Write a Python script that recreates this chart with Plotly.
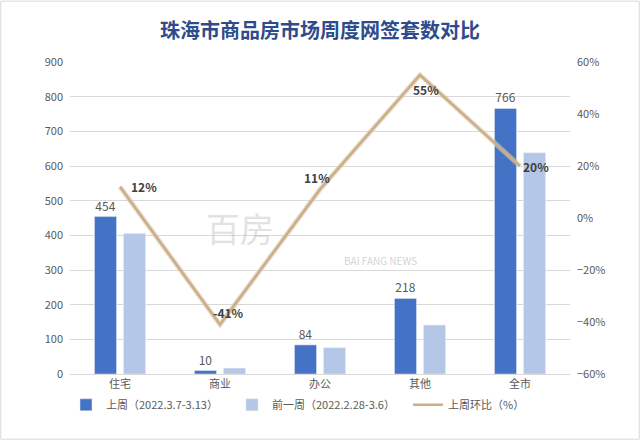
import plotly.graph_objects as go

categories = ["住宅", "商业", "办公", "其他", "全市"]
last_week = [454, 10, 84, 218, 766]
prev_week = [405, 17, 76, 141, 638]
wow_change = [0.12, -0.41, 0.11, 0.55, 0.20]
wow_labels = ["12%", "-41%", "11%", "55%", "20%"]
name_last = "上周（2022.3.7-3.13）"
name_prev = "前一周（2022.2.28-3.6）"
name_wow = "上周环比（%）"
title = "珠海市商品房市场周度网签套数对比"

FONT = "Noto Sans CJK SC, Microsoft YaHei, sans-serif"

fig = go.Figure()
fig.add_trace(go.Bar(
    x=categories, y=last_week, name=name_last, marker_color="#4472C4", legend="legend",
    text=[str(v) for v in last_week], textposition="outside", cliponaxis=False,
    textfont=dict(size=12, color="#595959", family=FONT),
))
fig.add_trace(go.Bar(
    x=categories, y=prev_week, name=name_prev, marker_color="#B4C7E7", legend="legend2",
))
# soft shadow under the line
fig.add_trace(go.Scatter(
    x=categories, y=wow_change, yaxis="y2", mode="lines",
    line=dict(color="rgba(215,200,180,0.6)", width=5), showlegend=False, hoverinfo="skip",
))
fig.add_trace(go.Scatter(
    x=categories, y=wow_change, yaxis="y2", mode="lines", name=name_wow, legend="legend3",
    line=dict(color="#CDAE84", width=2.5),
))

label_shifts = [(24, 0), (8, 12), (-3, 12), (6, -14), (16, 0)]
annotations = []
for c, v, t, (dx, dy) in zip(categories, wow_change, wow_labels, label_shifts):
    annotations.append(dict(x=c, y=v, xref="x", yref="y2", text="<b>" + t + "</b>", showarrow=False,
                            xshift=dx, yshift=dy,
                            font=dict(size=12, color="#404040", family=FONT)))
annotations += [
    dict(text="BAI FANG NEWS", x=0.62, y=0.365, xref="paper", yref="paper", showarrow=False,
         font=dict(size=10, color="rgba(180,180,180,0.6)")),
    dict(text="百房", x=0.34, y=0.47, xref="paper", yref="paper", showarrow=False,
         font=dict(size=34, color="rgba(190,190,190,0.45)", family=FONT)),
]

def leg(xpix):
    return dict(orientation="h", xref="container", yref="container", x=xpix / 640, xanchor="left",
                y=0.08, yanchor="middle", font=dict(size=11, color="#595959"),
                itemwidth=30, bgcolor="rgba(0,0,0,0)")

fig.update_layout(
    width=640, height=440,
    margin=dict(l=70, r=70, t=62, b=66, autoexpand=False),
    paper_bgcolor="white", plot_bgcolor="white",
    font=dict(family=FONT, color="#595959", size=11),
    title=dict(text="<b>" + title + "</b>", x=0.5, xanchor="center", y=0.93, yanchor="middle",
               font=dict(size=20, color="#2E4C8C", family=FONT)),
    barmode="group", bargap=0.42, bargroupgap=0.24,
    xaxis=dict(showgrid=False, showline=True, linecolor="#D9D9D9", ticks="",
               tickfont=dict(size=11, color="#595959")),
    yaxis=dict(range=[0, 900], dtick=100, gridcolor="#D9D9D9", zeroline=False,
               ticks="", tickfont=dict(size=11, color="#595959"), ticklabelstandoff=6),
    yaxis2=dict(range=[-0.6, 0.6], dtick=0.2, tickformat=".0%", overlaying="y", side="right",
                showgrid=False, zeroline=False, ticks="", ticklabelstandoff=6,
                tickfont=dict(size=11, color="#595959")),
    legend=leg(66), legend2=leg(232), legend3=leg(408),
    shapes=[dict(type="rect", xref="paper", yref="paper", x0=-0.1385, x1=1.1385,
                 y0=-0.209, y1=1.195, line=dict(color="#D9D9D9", width=1))],
    annotations=annotations,
)

fig.write_html("out.html")
